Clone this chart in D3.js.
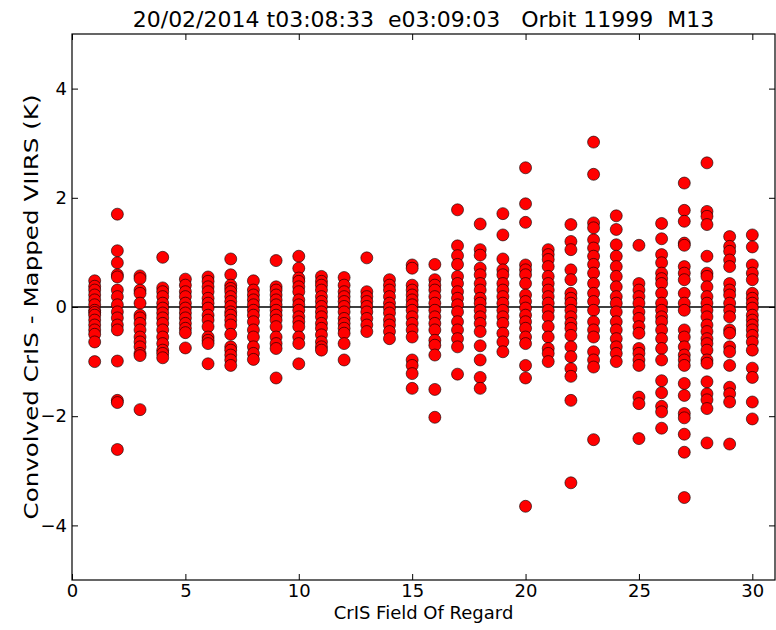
<!DOCTYPE html>
<html>
<head>
<meta charset="utf-8">
<script src="https://cdn.jsdelivr.net/npm/d3@7"></script>
<style>
  body { margin: 0; background: #fff; }
  svg text { font-family: "DejaVu Sans", sans-serif; fill: #000; }
</style>
</head>
<body>
<svg id="chart" width="776" height="630"></svg>
<script>
// CrIS field of regard (1..30) and convolved CrIS - mapped VIIRS differences (K)
var fors = d3.range(1, 31);
var diffs = [
  [0.48, 0.38, 0.31, 0.22, 0.13, 0.04, -0.06, -0.1, -0.15, -0.24, -0.33, -0.42, -0.5, -0.64, -1.0],
  [1.70, 1.03, 0.81, 0.59, 0.55, 0.31, 0.19, 0.04, -0.09, -0.2, -0.33, -0.42, -0.99, -1.71, -1.75, -2.61],
  [0.57, 0.52, 0.31, 0.25, 0.07, -0.15, -0.2, -0.3, -0.42, -0.55, -0.64, -0.73, -0.85, -0.89, -1.88],
  [0.91, 0.35, 0.28, 0.19, 0.07, -0.02, -0.11, -0.2, -0.3, -0.42, -0.55, -0.67, -0.79, -0.85, -0.93],
  [0.51, 0.40, 0.28, 0.19, 0.07, -0.02, -0.11, -0.2, -0.3, -0.39, -0.47, -0.75],
  [0.55, 0.47, 0.37, 0.28, 0.16, 0.07, -0.02, -0.15, -0.24, -0.36, -0.55, -0.61, -0.67, -1.04],
  [0.88, 0.59, 0.40, 0.34, 0.28, 0.19, 0.10, 0.01, -0.09, -0.15, -0.24, -0.33, -0.50, -0.73, -0.79, -0.88, -0.97, -1.07],
  [0.48, 0.31, 0.22, 0.13, 0.04, -0.06, -0.15, -0.27, -0.42, -0.55, -0.73, -0.85, -0.96],
  [0.85, 0.37, 0.31, 0.22, 0.13, 0.04, -0.06, -0.15, -0.24, -0.36, -0.55, -0.67, -0.76, -1.30],
  [0.93, 0.71, 0.53, 0.47, 0.37, 0.28, 0.13, 0.04, -0.06, -0.18, -0.27, -0.36, -0.55, -0.67, -1.04],
  [0.56, 0.47, 0.40, 0.31, 0.19, 0.10, 0.01, -0.09, -0.18, -0.30, -0.39, -0.51, -0.64, -0.73, -0.79],
  [0.54, 0.40, 0.28, 0.19, 0.10, 0.01, -0.09, -0.21, -0.30, -0.39, -0.48, -0.67, -0.97],
  [0.90, 0.28, 0.19, 0.10, 0.01, -0.09, -0.21, -0.33, -0.45],
  [0.50, 0.40, 0.31, 0.19, 0.07, -0.02, -0.11, -0.24, -0.33, -0.45, -0.58],
  [0.77, 0.71, 0.40, 0.31, 0.22, 0.13, 0.04, -0.06, -0.18, -0.30, -0.42, -0.55, -0.97, -1.07, -1.22, -1.49],
  [0.78, 0.50, 0.40, 0.31, 0.19, 0.07, -0.06, -0.18, -0.30, -0.42, -0.61, -0.70, -0.88, -1.51, -2.02],
  [1.78, 1.12, 0.94, 0.78, 0.56, 0.43, 0.28, 0.16, 0.04, -0.09, -0.27, -0.42, -0.58, -0.73, -1.23],
  [1.52, 1.05, 0.95, 0.71, 0.59, 0.43, 0.31, 0.16, 0.07, -0.06, -0.18, -0.30, -0.45, -0.71, -0.97, -1.29, -1.49],
  [1.71, 1.32, 0.88, 0.68, 0.59, 0.43, 0.31, 0.19, 0.07, -0.06, -0.18, -0.30, -0.48, -0.64, -0.82],
  [2.55, 1.89, 1.55, 0.77, 0.68, 0.59, 0.43, 0.22, 0.10, -0.02, -0.15, -0.27, -0.39, -0.55, -0.67, -1.07, -1.30, -3.65],
  [1.05, 0.96, 0.87, 0.74, 0.56, 0.43, 0.31, 0.19, 0.07, -0.06, -0.18, -0.36, -0.55, -0.76, -0.85, -1.0],
  [1.51, 1.20, 1.05, 0.68, 0.50, 0.25, 0.16, 0.07, -0.06, -0.18, -0.30, -0.39, -0.52, -0.73, -0.91, -1.13, -1.27, -1.71, -3.22],
  [3.02, 2.43, 1.54, 1.45, 1.23, 1.08, 0.93, 0.78, 0.62, 0.43, 0.25, 0.10, -0.06, -0.27, -0.42, -0.55, -0.82, -0.97, -1.10, -2.43],
  [1.67, 1.42, 1.14, 0.93, 0.74, 0.56, 0.37, 0.19, 0.07, -0.09, -0.27, -0.42, -0.58, -0.73, -0.85, -1.0],
  [1.13, 0.43, 0.31, 0.19, 0.07, -0.09, -0.21, -0.36, -0.48, -0.76, -0.85, -0.97, -1.07, -1.65, -1.77, -2.41],
  [1.53, 1.25, 0.96, 0.81, 0.62, 0.52, 0.43, 0.25, 0.07, -0.06, -0.18, -0.27, -0.42, -0.58, -0.76, -0.97, -1.35, -1.57, -1.82, -1.92, -2.22],
  [2.27, 1.77, 1.57, 1.17, 1.13, 0.74, 0.62, 0.50, 0.25, 0.07, -0.06, -0.42, -0.55, -0.73, -0.88, -0.97, -1.07, -1.40, -1.62, -1.95, -2.03, -2.33, -2.66, -3.49],
  [2.64, 1.75, 1.66, 1.51, 0.93, 0.62, 0.56, 0.37, 0.19, 0.07, -0.06, -0.18, -0.33, -0.45, -0.58, -0.67, -0.79, -0.97, -1.03, -1.37, -1.59, -1.70, -1.86, -2.49],
  [1.29, 1.11, 1.02, 0.86, 0.74, 0.43, 0.31, 0.22, 0.07, -0.06, -0.18, -0.42, -0.48, -0.73, -0.82, -1.07, -1.47, -1.59, -1.74, -2.51],
  [1.32, 1.10, 0.77, 0.62, 0.50, 0.25, 0.16, 0.07, -0.02, -0.15, -0.24, -0.33, -0.42, -0.52, -0.64, -0.79, -1.12, -1.29, -1.74, -2.05]
];
var xTicks = [0, 5, 10, 15, 20, 25, 30];
var yTicks = [-4, -2, 0, 2, 4];
var title = '20/02/2014 t03:08:33  e03:09:03   Orbit 11999  M13';

var padL = 72, padR = 775, padT = 34, padB = 580;

var svg = d3.select('#chart');

var x = d3.scaleLinear().domain([0, 31]).range([padL, padR]);
var y = d3.scaleLinear().domain([-5, 5]).range([padB, padT]);

var points = [];
fors.forEach(function(f, i) {
  diffs[i].forEach(function(v) { points.push({ f: f, v: v }); });
});

// zero line
svg.append('line')
  .attr('x1', padL).attr('x2', padR)
  .attr('y1', y(0)).attr('y2', y(0))
  .attr('stroke', '#000').attr('stroke-width', 1.5);

svg.selectAll('circle.pt')
  .data(points)
  .enter()
  .append('circle')
  .attr('class', 'pt')
  .attr('cx', function(d) { return x(d.f); })
  .attr('cy', function(d) { return y(d.v); })
  .attr('r', 6)
  .attr('fill', '#ff0000')
  .attr('stroke', '#000')
  .attr('stroke-width', 0.6);

// axes, ticks pointing inward like matplotlib
function styleAxis(g) {
  g.select('.domain').remove();
  g.selectAll('.tick line').attr('stroke', '#000').attr('stroke-width', 1);
  g.selectAll('.tick text').style('font-size', '18px').style('font-family', '"DejaVu Sans", sans-serif');
}
var fmt = function(d) { return d < 0 ? '\u2212' + Math.abs(d) : d; };

svg.append('g')
  .attr('transform', 'translate(0,' + padB + ')')
  .call(d3.axisBottom(x).tickValues(xTicks).tickSizeInner(-6).tickSizeOuter(0).tickPadding(4).tickFormat(fmt))
  .call(styleAxis);
svg.append('g')
  .attr('transform', 'translate(0,' + padT + ')')
  .call(d3.axisTop(x).tickValues(xTicks).tickSizeInner(-6).tickSizeOuter(0).tickFormat(''))
  .call(styleAxis);
svg.append('g')
  .attr('transform', 'translate(' + padL + ',0)')
  .call(d3.axisLeft(y).tickValues(yTicks).tickSizeInner(-6).tickSizeOuter(0).tickPadding(5).tickFormat(fmt))
  .call(styleAxis);
svg.append('g')
  .attr('transform', 'translate(' + padR + ',0)')
  .call(d3.axisRight(y).tickValues(yTicks).tickSizeInner(-6).tickSizeOuter(0).tickFormat(''))
  .call(styleAxis);

// frame
svg.append('rect')
  .attr('x', padL).attr('y', padT)
  .attr('width', padR - padL).attr('height', padB - padT)
  .attr('fill', 'none').attr('stroke', '#000').attr('stroke-width', 1.2);

svg.append('text')
  .attr('x', (padL + padR) / 2).attr('y', 27)
  .attr('text-anchor', 'middle')
  .style('font-size', '22px')
  .style('white-space', 'pre')
  .attr('xml:space', 'preserve')
  .text(title);

svg.append('text')
  .attr('x', (padL + padR) / 2).attr('y', 619)
  .attr('text-anchor', 'middle')
  .style('font-size', '18px')
  .text('CrIS Field Of Regard');

// the reference's y label is stretched along its length
svg.append('text')
  .attr('transform', 'translate(38,' + (padT + padB) / 2 + ') rotate(-90)')
  .attr('text-anchor', 'middle')
  .attr('textLength', 425)
  .attr('lengthAdjust', 'spacingAndGlyphs')
  .style('font-size', '19px')
  .text('Convolved CrIS - Mapped VIIRS (K)');
</script>
</body>
</html>
